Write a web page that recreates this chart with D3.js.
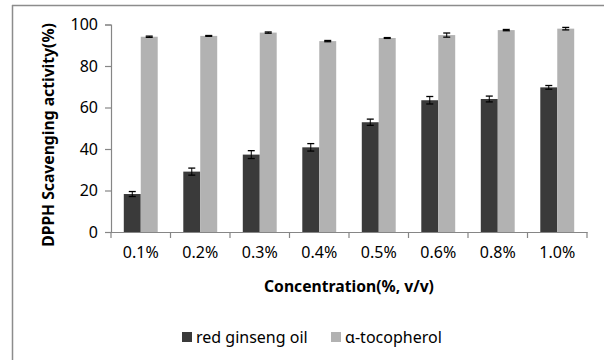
<!DOCTYPE html>
<html>
<head>
<meta charset="utf-8">
<script src="https://cdn.jsdelivr.net/npm/d3@7"></script>
<style>
  body { margin: 0; background: #fff; }
  svg { display: block; }
  text { font-family: "Noto Sans", "DejaVu Sans", sans-serif; fill: #000; }
</style>
</head>
<body>
<svg width="604" height="360"></svg>
<script>
// Data
const concentrations = ["0.1%", "0.2%", "0.3%", "0.4%", "0.5%", "0.6%", "0.8%", "1.0%"];
const ginsengOil = [18.3, 29.1, 37.3, 40.8, 52.9, 63.5, 64.1, 69.7];
const ginsengErr = [1.2, 1.7, 1.9, 1.8, 1.5, 1.8, 1.4, 0.9];
const tocopherol = [94.1, 94.5, 96.1, 92.0, 93.5, 94.9, 97.3, 98.0];
const tocopherolErr = [0.3, 0.2, 0.3, 0.3, 0.2, 1.0, 0.3, 0.6];
const yTicks = [0, 20, 40, 60, 80, 100];
const seriesNames = ["red ginseng oil", "α-tocopherol"];
const seriesColors = ["#3a3a3a", "#b2b2b2"];

const svg = d3.select("svg");

// outer frame (only left and top edges show)
svg.append("line").attr("x1", 12.5).attr("x2", 12.5).attr("y1", 5).attr("y2", 360)
  .attr("stroke", "#8c8c8c").attr("stroke-width", 1.5);
svg.append("line").attr("x1", 12).attr("x2", 604).attr("y1", 5.5).attr("y2", 5.5)
  .attr("stroke", "#8c8c8c").attr("stroke-width", 1.5);

const x0 = 111, x1 = 587, yTop = 24.5, yBot = 232;

const x = d3.scaleBand().domain(concentrations).range([x0, x1]).paddingInner(0.43).paddingOuter(0.215);
const xs = d3.scaleBand().domain([0, 1]).range([0, x.bandwidth()]);
const y = d3.scaleLinear().domain([0, 100]).range([yBot, yTop]);

const rows = concentrations.map((c, i) => ({
  c,
  vals: [
    { s: 0, v: ginsengOil[i], e: ginsengErr[i] },
    { s: 1, v: tocopherol[i], e: tocopherolErr[i] }
  ]
}));

// bars
const groups = svg.append("g").selectAll("g").data(rows).enter().append("g")
  .attr("transform", d => `translate(${x(d.c)},0)`);

groups.selectAll("rect").data(d => d.vals).enter().append("rect")
  .attr("x", d => xs(d.s))
  .attr("width", xs.bandwidth())
  .attr("y", d => y(d.v))
  .attr("height", d => y(0) - y(d.v))
  .attr("fill", d => seriesColors[d.s]);

// error bars
const eb = groups.selectAll("g.err").data(d => d.vals).enter().append("g").attr("class", "err");
eb.append("line")
  .attr("x1", d => xs(d.s) + xs.bandwidth() / 2)
  .attr("x2", d => xs(d.s) + xs.bandwidth() / 2)
  .attr("y1", d => y(d.v + d.e)).attr("y2", d => y(d.v - d.e))
  .attr("stroke", "#000").attr("stroke-width", 1);
[1, -1].forEach(sign => {
  eb.append("line")
    .attr("x1", d => xs(d.s) + xs.bandwidth() / 2 - 3.5)
    .attr("x2", d => xs(d.s) + xs.bandwidth() / 2 + 3.5)
    .attr("y1", d => y(d.v + sign * d.e)).attr("y2", d => y(d.v + sign * d.e))
    .attr("stroke", "#000").attr("stroke-width", 1.3);
});

// y axis
const yAxis = svg.append("g").attr("transform", `translate(${x0},0)`)
  .call(d3.axisLeft(y).tickValues(yTicks).tickSize(6).tickPadding(7));
yAxis.select(".domain").attr("stroke", "#868686").attr("stroke-width", 1.2);
yAxis.selectAll(".tick line").attr("stroke", "#868686").attr("stroke-width", 1.2);
yAxis.selectAll("text").style("font-size", "16px").style("font-family", "'Noto Sans', sans-serif").attr("fill", "#000");

// x axis
const xAxis = svg.append("g").attr("transform", `translate(0,${yBot})`)
  .call(d3.axisBottom(x).tickSize(0).tickPadding(15));
xAxis.select(".domain").attr("stroke", "#868686").attr("stroke-width", 1.2);
xAxis.selectAll("text").style("font-size", "16px").style("font-family", "'Noto Sans', sans-serif").attr("fill", "#000");
// category boundary ticks
const step = (x1 - x0) / concentrations.length;
svg.append("g").selectAll("line").data(d3.range(concentrations.length + 1)).enter().append("line")
  .attr("x1", i => x0 + i * step).attr("x2", i => x0 + i * step)
  .attr("y1", yBot).attr("y2", yBot + 6)
  .attr("stroke", "#868686").attr("stroke-width", 1.2);

// axis titles
svg.append("text")
  .attr("transform", "translate(54,135) rotate(-90)")
  .attr("text-anchor", "middle")
  .style("font-size", "15.7px").style("font-weight", "bold")
  .text("DPPH Scavenging activity(%)");

svg.append("text")
  .attr("x", 349).attr("y", 292)
  .attr("text-anchor", "middle")
  .style("font-size", "15.7px").style("font-weight", "bold")
  .text("Concentration(%, v/v)");

// legend
const legendX = [182, 331];
const legend = svg.append("g").selectAll("g").data(seriesNames).enter().append("g")
  .attr("transform", (d, i) => `translate(${legendX[i]},332)`);
legend.append("rect").attr("width", 10).attr("height", 10).attr("fill", (d, i) => seriesColors[i]);
legend.append("text").attr("x", 14).attr("y", 10.5)
  .style("font-size", "16px")
  .text(d => d);
</script>
</body>
</html>
